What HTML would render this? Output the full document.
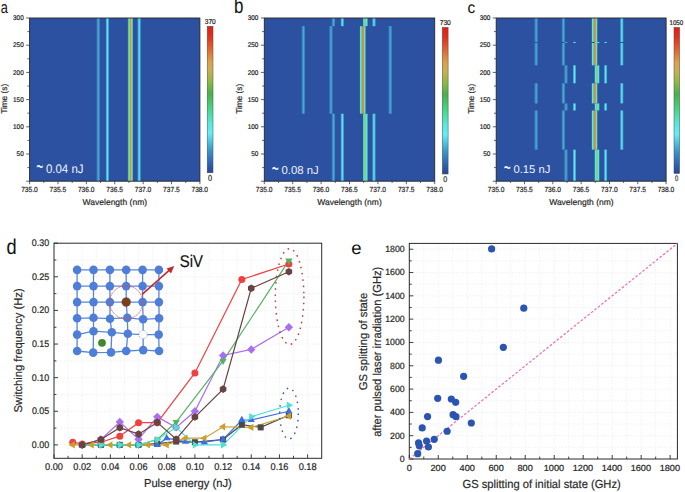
<!DOCTYPE html>
<html><head><meta charset="utf-8"><style>
html,body{margin:0;padding:0;background:#fff;width:685px;height:492px;overflow:hidden}
svg{display:block;font-family:"Liberation Sans", sans-serif;text-rendering:geometricPrecision}
</style></head><body>
<svg width="685" height="492" viewBox="0 0 685 492">
<defs>
<linearGradient id="cbar" x1="0" y1="0" x2="0" y2="1">
<stop offset="0" stop-color="#e61c12"/><stop offset="0.07" stop-color="#e2301c"/><stop offset="0.15" stop-color="#e0622e"/>
<stop offset="0.24" stop-color="#dca04a"/><stop offset="0.3" stop-color="#c8b050"/><stop offset="0.38" stop-color="#8cb848"/><stop offset="0.46" stop-color="#48b04c"/>
<stop offset="0.57" stop-color="#48d88c"/><stop offset="0.66" stop-color="#58e8d8"/><stop offset="0.73" stop-color="#64eef6"/><stop offset="0.84" stop-color="#3a9ccc"/>
<stop offset="0.93" stop-color="#2e66b4"/><stop offset="1" stop-color="#24469a"/></linearGradient>
<linearGradient id="gf" x1="0" y1="0" x2="1" y2="0"><stop offset="0" stop-color="#2c51a0"/><stop offset="0.22" stop-color="#3580bc"/><stop offset="0.5" stop-color="#4aacd6"/><stop offset="0.78" stop-color="#3580bc"/><stop offset="1" stop-color="#2c51a0"/></linearGradient>
<linearGradient id="gc" x1="0" y1="0" x2="1" y2="0"><stop offset="0" stop-color="#2c51a0"/><stop offset="0.2" stop-color="#3c9ed0"/><stop offset="0.5" stop-color="#66eaee"/><stop offset="0.8" stop-color="#3c9ed0"/><stop offset="1" stop-color="#2c51a0"/></linearGradient>
<linearGradient id="gm" x1="0" y1="0" x2="1" y2="0"><stop offset="0" stop-color="#2c51a0"/><stop offset="0.08" stop-color="#46b0da"/><stop offset="0.18" stop-color="#62e4ee"/><stop offset="0.32" stop-color="#5cd890"/><stop offset="0.42" stop-color="#cc9048"/><stop offset="0.62" stop-color="#d88a40"/><stop offset="0.74" stop-color="#8ad67a"/><stop offset="0.86" stop-color="#60e2ea"/><stop offset="0.95" stop-color="#46aad6"/><stop offset="1" stop-color="#2c51a0"/></linearGradient>
<linearGradient id="gg" x1="0" y1="0" x2="1" y2="0"><stop offset="0" stop-color="#2c51a0"/><stop offset="0.1" stop-color="#3aa0d0"/><stop offset="0.24" stop-color="#5ceaea"/><stop offset="0.38" stop-color="#6cd890"/><stop offset="0.5" stop-color="#a8c858"/><stop offset="0.62" stop-color="#6cd890"/><stop offset="0.76" stop-color="#5ceaea"/><stop offset="0.9" stop-color="#3aa0d0"/><stop offset="1" stop-color="#2c51a0"/></linearGradient>
<linearGradient id="gma" x1="0" y1="0" x2="1" y2="0"><stop offset="0" stop-color="#2c51a0"/><stop offset="0.12" stop-color="#40b0d8"/><stop offset="0.26" stop-color="#60dca0"/><stop offset="0.38" stop-color="#a8d060"/><stop offset="0.47" stop-color="#d49244"/><stop offset="0.55" stop-color="#d49244"/><stop offset="0.66" stop-color="#a8d060"/><stop offset="0.8" stop-color="#60dca0"/><stop offset="0.9" stop-color="#40b0d8"/><stop offset="1" stop-color="#2c51a0"/></linearGradient>
</defs>
<rect width="685" height="492" fill="#fff"/>
<rect x="29.6" y="18" width="170.3" height="163.2" fill="#2c51a0"/>
<g clip-path="url(#clipa)">
<rect x="96.09" y="18" width="4.4" height="163.2" fill="url(#gf)"/>
<rect x="105.37" y="18" width="4.0" height="163.2" fill="url(#gc)"/>
<rect x="127.36" y="18" width="6.0" height="163.2" fill="url(#gma)"/>
<rect x="137.16" y="18" width="4.0" height="163.2" fill="url(#gc)"/>
</g>
<clipPath id="clipa"><rect x="29.6" y="18" width="170.3" height="163.2"/></clipPath>
<rect x="29.6" y="18" width="170.3" height="163.2" fill="none" stroke="#262626" stroke-width="0.9"/>
<line x1="26.2" y1="181.2" x2="29.6" y2="181.2" stroke="#3a3a3a" stroke-width="0.8"/>
<line x1="27.4" y1="167.6" x2="29.6" y2="167.6" stroke="#3a3a3a" stroke-width="0.8"/>
<line x1="26.2" y1="154" x2="29.6" y2="154" stroke="#3a3a3a" stroke-width="0.8"/>
<text transform="translate(16.6,156.13) scale(0.9295,1)" font-size="6.901" fill="#2a2a2a" stroke="#2a2a2a" stroke-width="0.22">50</text>
<line x1="27.4" y1="140.4" x2="29.6" y2="140.4" stroke="#3a3a3a" stroke-width="0.8"/>
<line x1="26.2" y1="126.8" x2="29.6" y2="126.8" stroke="#3a3a3a" stroke-width="0.8"/>
<text transform="translate(13.04,128.93) scale(0.9295,1)" font-size="6.901" fill="#2a2a2a" stroke="#2a2a2a" stroke-width="0.22">100</text>
<line x1="27.4" y1="113.2" x2="29.6" y2="113.2" stroke="#3a3a3a" stroke-width="0.8"/>
<line x1="26.2" y1="99.6" x2="29.6" y2="99.6" stroke="#3a3a3a" stroke-width="0.8"/>
<text transform="translate(13.04,101.73) scale(0.9295,1)" font-size="6.901" fill="#2a2a2a" stroke="#2a2a2a" stroke-width="0.22">150</text>
<line x1="27.4" y1="86" x2="29.6" y2="86" stroke="#3a3a3a" stroke-width="0.8"/>
<line x1="26.2" y1="72.4" x2="29.6" y2="72.4" stroke="#3a3a3a" stroke-width="0.8"/>
<text transform="translate(13.04,74.53) scale(0.9295,1)" font-size="6.901" fill="#2a2a2a" stroke="#2a2a2a" stroke-width="0.22">200</text>
<line x1="27.4" y1="58.8" x2="29.6" y2="58.8" stroke="#3a3a3a" stroke-width="0.8"/>
<line x1="26.2" y1="45.2" x2="29.6" y2="45.2" stroke="#3a3a3a" stroke-width="0.8"/>
<text transform="translate(13.04,47.33) scale(0.9295,1)" font-size="6.901" fill="#2a2a2a" stroke="#2a2a2a" stroke-width="0.22">250</text>
<line x1="27.4" y1="31.6" x2="29.6" y2="31.6" stroke="#3a3a3a" stroke-width="0.8"/>
<line x1="26.2" y1="18" x2="29.6" y2="18" stroke="#3a3a3a" stroke-width="0.8"/>
<text transform="translate(13.04,20.13) scale(0.9295,1)" font-size="6.901" fill="#2a2a2a" stroke="#2a2a2a" stroke-width="0.22">300</text>
<line x1="29.6" y1="181.2" x2="29.6" y2="184.2" stroke="#3a3a3a" stroke-width="0.8"/>
<text transform="translate(21.17,191.83) scale(0.8875,1)" font-size="7.465" fill="#2a2a2a" stroke="#2a2a2a" stroke-width="0.22">735.0</text>
<line x1="43.79" y1="181.2" x2="43.79" y2="183" stroke="#3a3a3a" stroke-width="0.8"/>
<line x1="57.98" y1="181.2" x2="57.98" y2="184.2" stroke="#3a3a3a" stroke-width="0.8"/>
<text transform="translate(49.57,191.83) scale(0.8875,1)" font-size="7.465" fill="#2a2a2a" stroke="#2a2a2a" stroke-width="0.22">735.5</text>
<line x1="72.18" y1="181.2" x2="72.18" y2="183" stroke="#3a3a3a" stroke-width="0.8"/>
<line x1="86.37" y1="181.2" x2="86.37" y2="184.2" stroke="#3a3a3a" stroke-width="0.8"/>
<text transform="translate(77.94,191.83) scale(0.8875,1)" font-size="7.465" fill="#2a2a2a" stroke="#2a2a2a" stroke-width="0.22">736.0</text>
<line x1="100.56" y1="181.2" x2="100.56" y2="183" stroke="#3a3a3a" stroke-width="0.8"/>
<line x1="114.75" y1="181.2" x2="114.75" y2="184.2" stroke="#3a3a3a" stroke-width="0.8"/>
<text transform="translate(106.34,191.83) scale(0.8875,1)" font-size="7.465" fill="#2a2a2a" stroke="#2a2a2a" stroke-width="0.22">736.5</text>
<line x1="128.94" y1="181.2" x2="128.94" y2="183" stroke="#3a3a3a" stroke-width="0.8"/>
<line x1="143.13" y1="181.2" x2="143.13" y2="184.2" stroke="#3a3a3a" stroke-width="0.8"/>
<text transform="translate(134.7,191.83) scale(0.8875,1)" font-size="7.465" fill="#2a2a2a" stroke="#2a2a2a" stroke-width="0.22">737.0</text>
<line x1="157.33" y1="181.2" x2="157.33" y2="183" stroke="#3a3a3a" stroke-width="0.8"/>
<line x1="171.52" y1="181.2" x2="171.52" y2="184.2" stroke="#3a3a3a" stroke-width="0.8"/>
<text transform="translate(163.1,191.83) scale(0.8875,1)" font-size="7.465" fill="#2a2a2a" stroke="#2a2a2a" stroke-width="0.22">737.5</text>
<line x1="185.71" y1="181.2" x2="185.71" y2="183" stroke="#3a3a3a" stroke-width="0.8"/>
<line x1="199.9" y1="181.2" x2="199.9" y2="184.2" stroke="#3a3a3a" stroke-width="0.8"/>
<text transform="translate(191.47,191.83) scale(0.8875,1)" font-size="7.465" fill="#2a2a2a" stroke="#2a2a2a" stroke-width="0.22">738.0</text>
<text transform="translate(82.56,204.9) scale(0.9960,1)" font-size="8.556" fill="#2a2a2a" stroke="#2a2a2a" stroke-width="0.2">Wavelength (nm)</text>
<text transform="translate(7.13,113.87) rotate(-90) scale(0.9816,1)" font-size="8.449" fill="#2a2a2a" stroke="#2a2a2a" stroke-width="0.2">Time (s)</text>
<rect x="207.2" y="26.3" width="5.8" height="146.5" fill="url(#cbar)" stroke="#4a4a4a" stroke-width="0.5"/>
<text transform="translate(204.74,23.93) scale(0.9193,1)" font-size="7.183" fill="#2a2a2a" stroke="#2a2a2a" stroke-width="0.22">370</text>
<text transform="translate(207.91,180.91) scale(0.8350,1)" font-size="8.732" fill="#2a2a2a" stroke="#2a2a2a" stroke-width="0.22">0</text>
<text transform="translate(0.79,13.23) scale(0.7746,1)" font-size="16.545" fill="#111">a</text>
<text transform="translate(36.16,175.11) scale(0.4656,1)" font-size="25.600" fill="#eef1f8">~</text>
<text transform="translate(45.94,172.98) scale(0.9254,1)" font-size="12.394" fill="#eef1f8">0.04 nJ</text>
<rect x="264.3" y="18" width="170.4" height="163.2" fill="#2c51a0"/>
<g clip-path="url(#clipb)">
<rect x="331.28" y="113.74" width="4.4" height="67.46" fill="url(#gf)"/>
<rect x="340.29" y="113.74" width="4.0" height="67.46" fill="url(#gc)"/>
<rect x="362.49" y="113.74" width="5.6" height="67.46" fill="url(#gg)"/>
<rect x="371.98" y="113.74" width="4.0" height="67.46" fill="url(#gc)"/>
<rect x="301.18" y="26.16" width="4.4" height="87.58" fill="url(#gf)"/>
<rect x="328.78" y="26.16" width="4.4" height="87.58" fill="url(#gf)"/>
<rect x="359.42" y="26.16" width="6.4" height="87.58" fill="url(#gm)"/>
<rect x="388.08" y="26.16" width="4.4" height="87.58" fill="url(#gf)"/>
<rect x="331.28" y="18" width="4.4" height="8.16" fill="url(#gf)"/>
<rect x="340.29" y="18" width="4.0" height="8.16" fill="url(#gc)"/>
<rect x="362.49" y="18" width="5.6" height="8.16" fill="url(#gg)"/>
<rect x="371.98" y="18" width="4.0" height="8.16" fill="url(#gc)"/>
</g>
<clipPath id="clipb"><rect x="264.3" y="18" width="170.4" height="163.2"/></clipPath>
<rect x="264.3" y="18" width="170.4" height="163.2" fill="none" stroke="#262626" stroke-width="0.9"/>
<line x1="260.9" y1="181.2" x2="264.3" y2="181.2" stroke="#3a3a3a" stroke-width="0.8"/>
<line x1="262.1" y1="167.6" x2="264.3" y2="167.6" stroke="#3a3a3a" stroke-width="0.8"/>
<line x1="260.9" y1="154" x2="264.3" y2="154" stroke="#3a3a3a" stroke-width="0.8"/>
<text transform="translate(251.3,156.13) scale(0.9295,1)" font-size="6.901" fill="#2a2a2a" stroke="#2a2a2a" stroke-width="0.22">50</text>
<line x1="262.1" y1="140.4" x2="264.3" y2="140.4" stroke="#3a3a3a" stroke-width="0.8"/>
<line x1="260.9" y1="126.8" x2="264.3" y2="126.8" stroke="#3a3a3a" stroke-width="0.8"/>
<text transform="translate(247.74,128.93) scale(0.9295,1)" font-size="6.901" fill="#2a2a2a" stroke="#2a2a2a" stroke-width="0.22">100</text>
<line x1="262.1" y1="113.2" x2="264.3" y2="113.2" stroke="#3a3a3a" stroke-width="0.8"/>
<line x1="260.9" y1="99.6" x2="264.3" y2="99.6" stroke="#3a3a3a" stroke-width="0.8"/>
<text transform="translate(247.74,101.73) scale(0.9295,1)" font-size="6.901" fill="#2a2a2a" stroke="#2a2a2a" stroke-width="0.22">150</text>
<line x1="262.1" y1="86" x2="264.3" y2="86" stroke="#3a3a3a" stroke-width="0.8"/>
<line x1="260.9" y1="72.4" x2="264.3" y2="72.4" stroke="#3a3a3a" stroke-width="0.8"/>
<text transform="translate(247.74,74.53) scale(0.9295,1)" font-size="6.901" fill="#2a2a2a" stroke="#2a2a2a" stroke-width="0.22">200</text>
<line x1="262.1" y1="58.8" x2="264.3" y2="58.8" stroke="#3a3a3a" stroke-width="0.8"/>
<line x1="260.9" y1="45.2" x2="264.3" y2="45.2" stroke="#3a3a3a" stroke-width="0.8"/>
<text transform="translate(247.74,47.33) scale(0.9295,1)" font-size="6.901" fill="#2a2a2a" stroke="#2a2a2a" stroke-width="0.22">250</text>
<line x1="262.1" y1="31.6" x2="264.3" y2="31.6" stroke="#3a3a3a" stroke-width="0.8"/>
<line x1="260.9" y1="18" x2="264.3" y2="18" stroke="#3a3a3a" stroke-width="0.8"/>
<text transform="translate(247.74,20.13) scale(0.9295,1)" font-size="6.901" fill="#2a2a2a" stroke="#2a2a2a" stroke-width="0.22">300</text>
<line x1="264.3" y1="181.2" x2="264.3" y2="184.2" stroke="#3a3a3a" stroke-width="0.8"/>
<text transform="translate(255.87,191.83) scale(0.8875,1)" font-size="7.465" fill="#2a2a2a" stroke="#2a2a2a" stroke-width="0.22">735.0</text>
<line x1="278.5" y1="181.2" x2="278.5" y2="183" stroke="#3a3a3a" stroke-width="0.8"/>
<line x1="292.7" y1="181.2" x2="292.7" y2="184.2" stroke="#3a3a3a" stroke-width="0.8"/>
<text transform="translate(284.29,191.83) scale(0.8875,1)" font-size="7.465" fill="#2a2a2a" stroke="#2a2a2a" stroke-width="0.22">735.5</text>
<line x1="306.9" y1="181.2" x2="306.9" y2="183" stroke="#3a3a3a" stroke-width="0.8"/>
<line x1="321.1" y1="181.2" x2="321.1" y2="184.2" stroke="#3a3a3a" stroke-width="0.8"/>
<text transform="translate(312.67,191.83) scale(0.8875,1)" font-size="7.465" fill="#2a2a2a" stroke="#2a2a2a" stroke-width="0.22">736.0</text>
<line x1="335.3" y1="181.2" x2="335.3" y2="183" stroke="#3a3a3a" stroke-width="0.8"/>
<line x1="349.5" y1="181.2" x2="349.5" y2="184.2" stroke="#3a3a3a" stroke-width="0.8"/>
<text transform="translate(341.09,191.83) scale(0.8875,1)" font-size="7.465" fill="#2a2a2a" stroke="#2a2a2a" stroke-width="0.22">736.5</text>
<line x1="363.7" y1="181.2" x2="363.7" y2="183" stroke="#3a3a3a" stroke-width="0.8"/>
<line x1="377.9" y1="181.2" x2="377.9" y2="184.2" stroke="#3a3a3a" stroke-width="0.8"/>
<text transform="translate(369.47,191.83) scale(0.8875,1)" font-size="7.465" fill="#2a2a2a" stroke="#2a2a2a" stroke-width="0.22">737.0</text>
<line x1="392.1" y1="181.2" x2="392.1" y2="183" stroke="#3a3a3a" stroke-width="0.8"/>
<line x1="406.3" y1="181.2" x2="406.3" y2="184.2" stroke="#3a3a3a" stroke-width="0.8"/>
<text transform="translate(397.89,191.83) scale(0.8875,1)" font-size="7.465" fill="#2a2a2a" stroke="#2a2a2a" stroke-width="0.22">737.5</text>
<line x1="420.5" y1="181.2" x2="420.5" y2="183" stroke="#3a3a3a" stroke-width="0.8"/>
<line x1="434.7" y1="181.2" x2="434.7" y2="184.2" stroke="#3a3a3a" stroke-width="0.8"/>
<text transform="translate(426.27,191.83) scale(0.8875,1)" font-size="7.465" fill="#2a2a2a" stroke="#2a2a2a" stroke-width="0.22">738.0</text>
<text transform="translate(317.26,204.9) scale(0.9960,1)" font-size="8.556" fill="#2a2a2a" stroke="#2a2a2a" stroke-width="0.2">Wavelength (nm)</text>
<text transform="translate(241.83,113.87) rotate(-90) scale(0.9816,1)" font-size="8.449" fill="#2a2a2a" stroke="#2a2a2a" stroke-width="0.2">Time (s)</text>
<rect x="442.3" y="27.4" width="5.8" height="146.6" fill="url(#cbar)" stroke="#4a4a4a" stroke-width="0.5"/>
<text transform="translate(439.66,24.83) scale(0.9340,1)" font-size="7.183" fill="#2a2a2a" stroke="#2a2a2a" stroke-width="0.22">730</text>
<text transform="translate(443.22,181.62) scale(0.8524,1)" font-size="8.310" fill="#2a2a2a" stroke="#2a2a2a" stroke-width="0.22">0</text>
<text transform="translate(234,12.79) scale(0.7907,1)" font-size="21.361" fill="#111">b</text>
<text transform="translate(271.76,176.51) scale(0.4656,1)" font-size="25.600" fill="#eef1f8">~</text>
<text transform="translate(281.45,173.59) scale(0.9970,1)" font-size="11.408" fill="#eef1f8">0.08 nJ</text>
<rect x="496.2" y="18" width="169.9" height="163.2" fill="#2c51a0"/>
<g clip-path="url(#clipc)">
<rect x="563.77" y="149.65" width="4.4" height="31.55" fill="url(#gf)"/>
<rect x="572.47" y="149.65" width="4.0" height="31.55" fill="url(#gc)"/>
<rect x="594.21" y="149.65" width="5.6" height="31.55" fill="url(#gg)"/>
<rect x="603.62" y="149.65" width="4.0" height="31.55" fill="url(#gc)"/>
<rect x="533.98" y="110.48" width="4.4" height="39.17" fill="url(#gf)"/>
<rect x="561.22" y="110.48" width="4.4" height="39.17" fill="url(#gf)"/>
<rect x="591.32" y="110.48" width="6.4" height="39.17" fill="url(#gm)"/>
<rect x="619.81" y="110.48" width="4.0" height="39.17" fill="url(#gc)"/>
<rect x="563.77" y="103.41" width="4.4" height="7.07" fill="url(#gf)"/>
<rect x="572.47" y="103.41" width="4.0" height="7.07" fill="url(#gc)"/>
<rect x="594.21" y="103.41" width="5.6" height="7.07" fill="url(#gg)"/>
<rect x="603.62" y="103.41" width="4.0" height="7.07" fill="url(#gc)"/>
<rect x="533.98" y="83.28" width="4.4" height="20.13" fill="url(#gf)"/>
<rect x="561.22" y="83.28" width="4.4" height="20.13" fill="url(#gf)"/>
<rect x="591.32" y="83.28" width="6.4" height="20.13" fill="url(#gm)"/>
<rect x="619.81" y="83.28" width="4.0" height="20.13" fill="url(#gc)"/>
<rect x="563.77" y="65.33" width="4.4" height="17.95" fill="url(#gf)"/>
<rect x="572.47" y="65.33" width="4.0" height="17.95" fill="url(#gc)"/>
<rect x="594.21" y="65.33" width="5.6" height="17.95" fill="url(#gg)"/>
<rect x="603.62" y="65.33" width="4.0" height="17.95" fill="url(#gc)"/>
<rect x="533.98" y="43.02" width="4.4" height="22.3" fill="url(#gf)"/>
<rect x="561.22" y="43.02" width="4.4" height="22.3" fill="url(#gf)"/>
<rect x="591.32" y="43.02" width="6.4" height="22.3" fill="url(#gm)"/>
<rect x="619.81" y="43.02" width="4.0" height="22.3" fill="url(#gc)"/>
<rect x="563.77" y="41.94" width="4.4" height="1.09" fill="url(#gf)"/>
<rect x="572.47" y="41.94" width="4.0" height="1.09" fill="url(#gc)"/>
<rect x="594.21" y="41.94" width="5.6" height="1.09" fill="url(#gg)"/>
<rect x="603.62" y="41.94" width="4.0" height="1.09" fill="url(#gc)"/>
<rect x="533.98" y="18" width="4.4" height="23.94" fill="url(#gf)"/>
<rect x="561.22" y="18" width="4.4" height="23.94" fill="url(#gf)"/>
<rect x="591.32" y="18" width="6.4" height="23.94" fill="url(#gm)"/>
<rect x="619.81" y="18" width="4.0" height="23.94" fill="url(#gc)"/>
</g>
<clipPath id="clipc"><rect x="496.2" y="18" width="169.9" height="163.2"/></clipPath>
<rect x="496.2" y="18" width="169.9" height="163.2" fill="none" stroke="#262626" stroke-width="0.9"/>
<line x1="492.8" y1="181.2" x2="496.2" y2="181.2" stroke="#3a3a3a" stroke-width="0.8"/>
<line x1="494" y1="167.6" x2="496.2" y2="167.6" stroke="#3a3a3a" stroke-width="0.8"/>
<line x1="492.8" y1="154" x2="496.2" y2="154" stroke="#3a3a3a" stroke-width="0.8"/>
<text transform="translate(483.2,156.13) scale(0.9295,1)" font-size="6.901" fill="#2a2a2a" stroke="#2a2a2a" stroke-width="0.22">50</text>
<line x1="494" y1="140.4" x2="496.2" y2="140.4" stroke="#3a3a3a" stroke-width="0.8"/>
<line x1="492.8" y1="126.8" x2="496.2" y2="126.8" stroke="#3a3a3a" stroke-width="0.8"/>
<text transform="translate(479.64,128.93) scale(0.9295,1)" font-size="6.901" fill="#2a2a2a" stroke="#2a2a2a" stroke-width="0.22">100</text>
<line x1="494" y1="113.2" x2="496.2" y2="113.2" stroke="#3a3a3a" stroke-width="0.8"/>
<line x1="492.8" y1="99.6" x2="496.2" y2="99.6" stroke="#3a3a3a" stroke-width="0.8"/>
<text transform="translate(479.64,101.73) scale(0.9295,1)" font-size="6.901" fill="#2a2a2a" stroke="#2a2a2a" stroke-width="0.22">150</text>
<line x1="494" y1="86" x2="496.2" y2="86" stroke="#3a3a3a" stroke-width="0.8"/>
<line x1="492.8" y1="72.4" x2="496.2" y2="72.4" stroke="#3a3a3a" stroke-width="0.8"/>
<text transform="translate(479.64,74.53) scale(0.9295,1)" font-size="6.901" fill="#2a2a2a" stroke="#2a2a2a" stroke-width="0.22">200</text>
<line x1="494" y1="58.8" x2="496.2" y2="58.8" stroke="#3a3a3a" stroke-width="0.8"/>
<line x1="492.8" y1="45.2" x2="496.2" y2="45.2" stroke="#3a3a3a" stroke-width="0.8"/>
<text transform="translate(479.64,47.33) scale(0.9295,1)" font-size="6.901" fill="#2a2a2a" stroke="#2a2a2a" stroke-width="0.22">250</text>
<line x1="494" y1="31.6" x2="496.2" y2="31.6" stroke="#3a3a3a" stroke-width="0.8"/>
<line x1="492.8" y1="18" x2="496.2" y2="18" stroke="#3a3a3a" stroke-width="0.8"/>
<text transform="translate(479.64,20.13) scale(0.9295,1)" font-size="6.901" fill="#2a2a2a" stroke="#2a2a2a" stroke-width="0.22">300</text>
<line x1="496.2" y1="181.2" x2="496.2" y2="184.2" stroke="#3a3a3a" stroke-width="0.8"/>
<text transform="translate(487.77,191.83) scale(0.8875,1)" font-size="7.465" fill="#2a2a2a" stroke="#2a2a2a" stroke-width="0.22">735.0</text>
<line x1="510.36" y1="181.2" x2="510.36" y2="183" stroke="#3a3a3a" stroke-width="0.8"/>
<line x1="524.52" y1="181.2" x2="524.52" y2="184.2" stroke="#3a3a3a" stroke-width="0.8"/>
<text transform="translate(516.1,191.83) scale(0.8875,1)" font-size="7.465" fill="#2a2a2a" stroke="#2a2a2a" stroke-width="0.22">735.5</text>
<line x1="538.67" y1="181.2" x2="538.67" y2="183" stroke="#3a3a3a" stroke-width="0.8"/>
<line x1="552.83" y1="181.2" x2="552.83" y2="184.2" stroke="#3a3a3a" stroke-width="0.8"/>
<text transform="translate(544.4,191.83) scale(0.8875,1)" font-size="7.465" fill="#2a2a2a" stroke="#2a2a2a" stroke-width="0.22">736.0</text>
<line x1="566.99" y1="181.2" x2="566.99" y2="183" stroke="#3a3a3a" stroke-width="0.8"/>
<line x1="581.15" y1="181.2" x2="581.15" y2="184.2" stroke="#3a3a3a" stroke-width="0.8"/>
<text transform="translate(572.74,191.83) scale(0.8875,1)" font-size="7.465" fill="#2a2a2a" stroke="#2a2a2a" stroke-width="0.22">736.5</text>
<line x1="595.31" y1="181.2" x2="595.31" y2="183" stroke="#3a3a3a" stroke-width="0.8"/>
<line x1="609.47" y1="181.2" x2="609.47" y2="184.2" stroke="#3a3a3a" stroke-width="0.8"/>
<text transform="translate(601.04,191.83) scale(0.8875,1)" font-size="7.465" fill="#2a2a2a" stroke="#2a2a2a" stroke-width="0.22">737.0</text>
<line x1="623.62" y1="181.2" x2="623.62" y2="183" stroke="#3a3a3a" stroke-width="0.8"/>
<line x1="637.78" y1="181.2" x2="637.78" y2="184.2" stroke="#3a3a3a" stroke-width="0.8"/>
<text transform="translate(629.37,191.83) scale(0.8875,1)" font-size="7.465" fill="#2a2a2a" stroke="#2a2a2a" stroke-width="0.22">737.5</text>
<line x1="651.94" y1="181.2" x2="651.94" y2="183" stroke="#3a3a3a" stroke-width="0.8"/>
<line x1="666.1" y1="181.2" x2="666.1" y2="184.2" stroke="#3a3a3a" stroke-width="0.8"/>
<text transform="translate(657.67,191.83) scale(0.8875,1)" font-size="7.465" fill="#2a2a2a" stroke="#2a2a2a" stroke-width="0.22">738.0</text>
<text transform="translate(549.16,204.9) scale(0.9960,1)" font-size="8.556" fill="#2a2a2a" stroke="#2a2a2a" stroke-width="0.2">Wavelength (nm)</text>
<text transform="translate(473.73,113.87) rotate(-90) scale(0.9816,1)" font-size="8.449" fill="#2a2a2a" stroke="#2a2a2a" stroke-width="0.2">Time (s)</text>
<rect x="674" y="27.4" width="5.6" height="146.1" fill="url(#cbar)" stroke="#4a4a4a" stroke-width="0.5"/>
<text transform="translate(669.43,24.53) scale(0.9232,1)" font-size="6.761" fill="#2a2a2a" stroke="#2a2a2a" stroke-width="0.22">1050</text>
<text transform="translate(674.97,180.72) scale(0.7266,1)" font-size="8.028" fill="#2a2a2a" stroke="#2a2a2a" stroke-width="0.22">0</text>
<text transform="translate(467.48,13.04) scale(0.9518,1)" font-size="16.182" fill="#111">c</text>
<text transform="translate(503.76,175.71) scale(0.4656,1)" font-size="25.600" fill="#eef1f8">~</text>
<text transform="translate(513.45,172.99) scale(1.0109,1)" font-size="11.127" fill="#eef1f8">0.15 nJ</text>
<line x1="68.09" y1="243.2" x2="68.09" y2="458.3" stroke="#efefef" stroke-width="0.7" stroke-dasharray="2 1.3"/>
<line x1="82.18" y1="243.2" x2="82.18" y2="458.3" stroke="#efefef" stroke-width="0.7" stroke-dasharray="2 1.3"/>
<line x1="96.27" y1="243.2" x2="96.27" y2="458.3" stroke="#efefef" stroke-width="0.7" stroke-dasharray="2 1.3"/>
<line x1="110.36" y1="243.2" x2="110.36" y2="458.3" stroke="#efefef" stroke-width="0.7" stroke-dasharray="2 1.3"/>
<line x1="124.45" y1="243.2" x2="124.45" y2="458.3" stroke="#efefef" stroke-width="0.7" stroke-dasharray="2 1.3"/>
<line x1="138.54" y1="243.2" x2="138.54" y2="458.3" stroke="#efefef" stroke-width="0.7" stroke-dasharray="2 1.3"/>
<line x1="152.63" y1="243.2" x2="152.63" y2="458.3" stroke="#efefef" stroke-width="0.7" stroke-dasharray="2 1.3"/>
<line x1="166.72" y1="243.2" x2="166.72" y2="458.3" stroke="#efefef" stroke-width="0.7" stroke-dasharray="2 1.3"/>
<line x1="180.81" y1="243.2" x2="180.81" y2="458.3" stroke="#efefef" stroke-width="0.7" stroke-dasharray="2 1.3"/>
<line x1="194.9" y1="243.2" x2="194.9" y2="458.3" stroke="#efefef" stroke-width="0.7" stroke-dasharray="2 1.3"/>
<line x1="208.99" y1="243.2" x2="208.99" y2="458.3" stroke="#efefef" stroke-width="0.7" stroke-dasharray="2 1.3"/>
<line x1="223.08" y1="243.2" x2="223.08" y2="458.3" stroke="#efefef" stroke-width="0.7" stroke-dasharray="2 1.3"/>
<line x1="237.17" y1="243.2" x2="237.17" y2="458.3" stroke="#efefef" stroke-width="0.7" stroke-dasharray="2 1.3"/>
<line x1="251.26" y1="243.2" x2="251.26" y2="458.3" stroke="#efefef" stroke-width="0.7" stroke-dasharray="2 1.3"/>
<line x1="265.35" y1="243.2" x2="265.35" y2="458.3" stroke="#efefef" stroke-width="0.7" stroke-dasharray="2 1.3"/>
<line x1="279.44" y1="243.2" x2="279.44" y2="458.3" stroke="#efefef" stroke-width="0.7" stroke-dasharray="2 1.3"/>
<line x1="293.53" y1="243.2" x2="293.53" y2="458.3" stroke="#efefef" stroke-width="0.7" stroke-dasharray="2 1.3"/>
<line x1="307.62" y1="243.2" x2="307.62" y2="458.3" stroke="#efefef" stroke-width="0.7" stroke-dasharray="2 1.3"/>
<line x1="54" y1="444.9" x2="321.7" y2="444.9" stroke="#efefef" stroke-width="0.7" stroke-dasharray="2 1.3"/>
<line x1="54" y1="428.09" x2="321.7" y2="428.09" stroke="#efefef" stroke-width="0.7" stroke-dasharray="2 1.3"/>
<line x1="54" y1="411.28" x2="321.7" y2="411.28" stroke="#efefef" stroke-width="0.7" stroke-dasharray="2 1.3"/>
<line x1="54" y1="394.47" x2="321.7" y2="394.47" stroke="#efefef" stroke-width="0.7" stroke-dasharray="2 1.3"/>
<line x1="54" y1="377.67" x2="321.7" y2="377.67" stroke="#efefef" stroke-width="0.7" stroke-dasharray="2 1.3"/>
<line x1="54" y1="360.86" x2="321.7" y2="360.86" stroke="#efefef" stroke-width="0.7" stroke-dasharray="2 1.3"/>
<line x1="54" y1="344.05" x2="321.7" y2="344.05" stroke="#efefef" stroke-width="0.7" stroke-dasharray="2 1.3"/>
<line x1="54" y1="327.24" x2="321.7" y2="327.24" stroke="#efefef" stroke-width="0.7" stroke-dasharray="2 1.3"/>
<line x1="54" y1="310.43" x2="321.7" y2="310.43" stroke="#efefef" stroke-width="0.7" stroke-dasharray="2 1.3"/>
<line x1="54" y1="293.62" x2="321.7" y2="293.62" stroke="#efefef" stroke-width="0.7" stroke-dasharray="2 1.3"/>
<line x1="54" y1="276.82" x2="321.7" y2="276.82" stroke="#efefef" stroke-width="0.7" stroke-dasharray="2 1.3"/>
<line x1="54" y1="260.01" x2="321.7" y2="260.01" stroke="#efefef" stroke-width="0.7" stroke-dasharray="2 1.3"/>
<rect x="54" y="243.2" width="267.7" height="215.1" fill="none" stroke="#2a2a2a" stroke-width="1"/>
<line x1="54" y1="458.3" x2="54" y2="454.3" stroke="#2a2a2a" stroke-width="0.9"/>
<text transform="translate(45.03,470.3) scale(0.9383,1)" font-size="9.859" fill="#2a2a2a" stroke="#2a2a2a" stroke-width="0.22">0.00</text>
<line x1="68.09" y1="458.3" x2="68.09" y2="455.9" stroke="#2a2a2a" stroke-width="0.9"/>
<line x1="82.18" y1="458.3" x2="82.18" y2="454.3" stroke="#2a2a2a" stroke-width="0.9"/>
<text transform="translate(73.28,470.3) scale(0.9383,1)" font-size="9.859" fill="#2a2a2a" stroke="#2a2a2a" stroke-width="0.22">0.02</text>
<line x1="96.27" y1="458.3" x2="96.27" y2="455.9" stroke="#2a2a2a" stroke-width="0.9"/>
<line x1="110.36" y1="458.3" x2="110.36" y2="454.3" stroke="#2a2a2a" stroke-width="0.9"/>
<text transform="translate(101.37,470.3) scale(0.9383,1)" font-size="9.859" fill="#2a2a2a" stroke="#2a2a2a" stroke-width="0.22">0.04</text>
<line x1="124.45" y1="458.3" x2="124.45" y2="455.9" stroke="#2a2a2a" stroke-width="0.9"/>
<line x1="138.54" y1="458.3" x2="138.54" y2="454.3" stroke="#2a2a2a" stroke-width="0.9"/>
<text transform="translate(129.59,470.3) scale(0.9383,1)" font-size="9.859" fill="#2a2a2a" stroke="#2a2a2a" stroke-width="0.22">0.06</text>
<line x1="152.63" y1="458.3" x2="152.63" y2="455.9" stroke="#2a2a2a" stroke-width="0.9"/>
<line x1="166.72" y1="458.3" x2="166.72" y2="454.3" stroke="#2a2a2a" stroke-width="0.9"/>
<text transform="translate(157.77,470.3) scale(0.9383,1)" font-size="9.859" fill="#2a2a2a" stroke="#2a2a2a" stroke-width="0.22">0.08</text>
<line x1="180.81" y1="458.3" x2="180.81" y2="455.9" stroke="#2a2a2a" stroke-width="0.9"/>
<line x1="194.9" y1="458.3" x2="194.9" y2="454.3" stroke="#2a2a2a" stroke-width="0.9"/>
<text transform="translate(185.93,470.3) scale(0.9383,1)" font-size="9.859" fill="#2a2a2a" stroke="#2a2a2a" stroke-width="0.22">0.10</text>
<line x1="208.99" y1="458.3" x2="208.99" y2="455.9" stroke="#2a2a2a" stroke-width="0.9"/>
<line x1="223.08" y1="458.3" x2="223.08" y2="454.3" stroke="#2a2a2a" stroke-width="0.9"/>
<text transform="translate(214.18,470.3) scale(0.9383,1)" font-size="9.859" fill="#2a2a2a" stroke="#2a2a2a" stroke-width="0.22">0.12</text>
<line x1="237.17" y1="458.3" x2="237.17" y2="455.9" stroke="#2a2a2a" stroke-width="0.9"/>
<line x1="251.26" y1="458.3" x2="251.26" y2="454.3" stroke="#2a2a2a" stroke-width="0.9"/>
<text transform="translate(242.27,470.3) scale(0.9383,1)" font-size="9.859" fill="#2a2a2a" stroke="#2a2a2a" stroke-width="0.22">0.14</text>
<line x1="265.35" y1="458.3" x2="265.35" y2="455.9" stroke="#2a2a2a" stroke-width="0.9"/>
<line x1="279.44" y1="458.3" x2="279.44" y2="454.3" stroke="#2a2a2a" stroke-width="0.9"/>
<text transform="translate(270.49,470.3) scale(0.9383,1)" font-size="9.859" fill="#2a2a2a" stroke="#2a2a2a" stroke-width="0.22">0.16</text>
<line x1="293.53" y1="458.3" x2="293.53" y2="455.9" stroke="#2a2a2a" stroke-width="0.9"/>
<line x1="307.62" y1="458.3" x2="307.62" y2="454.3" stroke="#2a2a2a" stroke-width="0.9"/>
<text transform="translate(298.67,470.3) scale(0.9383,1)" font-size="9.859" fill="#2a2a2a" stroke="#2a2a2a" stroke-width="0.22">0.18</text>
<line x1="54" y1="444.9" x2="58" y2="444.9" stroke="#2a2a2a" stroke-width="0.9"/>
<text transform="translate(31.84,447.85) scale(0.9324,1)" font-size="9.577" fill="#2a2a2a" stroke="#2a2a2a" stroke-width="0.22">0.00</text>
<line x1="54" y1="428.09" x2="56.4" y2="428.09" stroke="#2a2a2a" stroke-width="0.9"/>
<line x1="54" y1="411.28" x2="58" y2="411.28" stroke="#2a2a2a" stroke-width="0.9"/>
<text transform="translate(31.89,414.24) scale(0.9324,1)" font-size="9.577" fill="#2a2a2a" stroke="#2a2a2a" stroke-width="0.22">0.05</text>
<line x1="54" y1="394.47" x2="56.4" y2="394.47" stroke="#2a2a2a" stroke-width="0.9"/>
<line x1="54" y1="377.67" x2="58" y2="377.67" stroke="#2a2a2a" stroke-width="0.9"/>
<text transform="translate(31.84,380.62) scale(0.9324,1)" font-size="9.577" fill="#2a2a2a" stroke="#2a2a2a" stroke-width="0.22">0.10</text>
<line x1="54" y1="360.86" x2="56.4" y2="360.86" stroke="#2a2a2a" stroke-width="0.9"/>
<line x1="54" y1="344.05" x2="58" y2="344.05" stroke="#2a2a2a" stroke-width="0.9"/>
<text transform="translate(31.89,347) scale(0.9324,1)" font-size="9.577" fill="#2a2a2a" stroke="#2a2a2a" stroke-width="0.22">0.15</text>
<line x1="54" y1="327.24" x2="56.4" y2="327.24" stroke="#2a2a2a" stroke-width="0.9"/>
<line x1="54" y1="310.43" x2="58" y2="310.43" stroke="#2a2a2a" stroke-width="0.9"/>
<text transform="translate(31.84,313.39) scale(0.9324,1)" font-size="9.577" fill="#2a2a2a" stroke="#2a2a2a" stroke-width="0.22">0.20</text>
<line x1="54" y1="293.62" x2="56.4" y2="293.62" stroke="#2a2a2a" stroke-width="0.9"/>
<line x1="54" y1="276.82" x2="58" y2="276.82" stroke="#2a2a2a" stroke-width="0.9"/>
<text transform="translate(31.89,279.77) scale(0.9324,1)" font-size="9.577" fill="#2a2a2a" stroke="#2a2a2a" stroke-width="0.22">0.25</text>
<line x1="54" y1="260.01" x2="56.4" y2="260.01" stroke="#2a2a2a" stroke-width="0.9"/>
<line x1="54" y1="243.2" x2="58" y2="243.2" stroke="#2a2a2a" stroke-width="0.9"/>
<text transform="translate(31.84,246.15) scale(0.9324,1)" font-size="9.577" fill="#2a2a2a" stroke="#2a2a2a" stroke-width="0.22">0.30</text>
<text transform="translate(143.9,487.37) scale(0.9709,1)" font-size="11.551" fill="#2a2a2a" stroke="#2a2a2a" stroke-width="0.2">Pulse energy (nJ)</text>
<text transform="translate(21.52,412.6) rotate(-90) scale(0.9870,1)" font-size="11.337" fill="#2a2a2a" stroke="#2a2a2a" stroke-width="0.2">Switching frequency (Hz)</text>
<text transform="translate(6.57,254.29) scale(0.8531,1)" font-size="21.361" fill="#111">d</text>
<path d="M77.1 269.9 L93.5 269.9 L109.9 269.9 L126.2 269.9 L142.6 269.9 L158.9 269.9" fill="none" stroke="#5a86d8" stroke-width="1.3"/>
<path d="M77.1 286.1 L93.5 286.1 L109.9 286.1 L126.2 286.1 L142.6 286.1 L158.9 286.1" fill="none" stroke="#5a86d8" stroke-width="1.3"/>
<path d="M77.1 302.1 L93.5 302.1 L109.9 302.1 L126.2 302.1 L142.6 302.1 L158.9 302.1" fill="none" stroke="#5a86d8" stroke-width="1.3"/>
<path d="M77.1 318.3 L93.5 317.8 L110 318.7 L127.3 317.9 L143.1 319.3 L159.1 318.3" fill="none" stroke="#5a86d8" stroke-width="1.3"/>
<path d="M77.1 334.6 L93.5 331.2 L111.8 332.3 L127.8 333.8 L143.1 334.6 L158.7 334.6" fill="none" stroke="#5a86d8" stroke-width="1.3"/>
<path d="M77.1 351 L93.2 352.6 L111 352.4 L126.2 351 L143.2 350.1 L159.1 351" fill="none" stroke="#5a86d8" stroke-width="1.3"/>
<path d="M77.1 269.9 L77.1 286.1 L77.1 302.1 L77.1 318.3 L77.1 334.6 L77.1 351" fill="none" stroke="#5a86d8" stroke-width="1.3"/>
<path d="M93.5 269.9 L93.5 286.1 L93.5 302.1 L93.5 317.8 L93.5 331.2 L93.2 352.6" fill="none" stroke="#5a86d8" stroke-width="1.3"/>
<path d="M109.9 269.9 L109.9 286.1 L109.9 302.1 L110 318.7 L111.8 332.3 L111 352.4" fill="none" stroke="#5a86d8" stroke-width="1.3"/>
<path d="M126.2 269.9 L126.2 286.1 L126.2 302.1 L127.3 317.9 L127.8 333.8 L126.2 351" fill="none" stroke="#5a86d8" stroke-width="1.3"/>
<path d="M142.6 269.9 L142.6 286.1 L142.6 302.1 L143.1 319.3 L143.1 334.6 L143.2 350.1" fill="none" stroke="#5a86d8" stroke-width="1.3"/>
<path d="M158.9 269.9 L158.9 286.1 L158.9 302.1 L159.1 318.3 L158.7 334.6 L159.1 351" fill="none" stroke="#5a86d8" stroke-width="1.3"/>
<circle cx="77.1" cy="269.9" r="4.3" fill="#4f7ed8"/>
<circle cx="93.5" cy="269.9" r="4.3" fill="#4f7ed8"/>
<circle cx="109.9" cy="269.9" r="4.3" fill="#4f7ed8"/>
<circle cx="126.2" cy="269.9" r="4.3" fill="#4f7ed8"/>
<circle cx="142.6" cy="269.9" r="4.3" fill="#4f7ed8"/>
<circle cx="158.9" cy="269.9" r="4.3" fill="#4f7ed8"/>
<circle cx="77.1" cy="286.1" r="4.3" fill="#4f7ed8"/>
<circle cx="93.5" cy="286.1" r="4.3" fill="#4f7ed8"/>
<circle cx="109.9" cy="286.1" r="4.3" fill="#4f7ed8"/>
<circle cx="126.2" cy="286.1" r="4.3" fill="#4f7ed8"/>
<circle cx="142.6" cy="286.1" r="4.3" fill="#4f7ed8"/>
<circle cx="158.9" cy="286.1" r="4.3" fill="#4f7ed8"/>
<circle cx="77.1" cy="302.1" r="4.3" fill="#4f7ed8"/>
<circle cx="93.5" cy="302.1" r="4.3" fill="#4f7ed8"/>
<circle cx="109.9" cy="302.1" r="4.3" fill="#4f7ed8"/>
<circle cx="126.2" cy="302.1" r="4.6" fill="#7c3e18" stroke="#5a7ed0" stroke-width="0.6" stroke-dasharray="0.8 1"/>
<circle cx="142.6" cy="302.1" r="4.3" fill="#4f7ed8"/>
<circle cx="158.9" cy="302.1" r="4.3" fill="#4f7ed8"/>
<circle cx="77.1" cy="318.3" r="4.3" fill="#4f7ed8"/>
<circle cx="93.5" cy="317.8" r="4.3" fill="#4f7ed8"/>
<circle cx="110" cy="318.7" r="4.3" fill="#4f7ed8"/>
<circle cx="127.3" cy="317.9" r="4.3" fill="#4f7ed8"/>
<circle cx="143.1" cy="319.3" r="4.3" fill="#4f7ed8"/>
<circle cx="159.1" cy="318.3" r="4.3" fill="#4f7ed8"/>
<circle cx="77.1" cy="334.6" r="4.3" fill="#4f7ed8"/>
<circle cx="93.5" cy="331.2" r="4.3" fill="#4f7ed8"/>
<circle cx="111.8" cy="332.3" r="4.3" fill="#4f7ed8"/>
<circle cx="127.8" cy="333.8" r="4.3" fill="#4f7ed8"/>
<circle cx="143.1" cy="334.6" r="4.1" fill="#ffffff" stroke="#4f7ed8" stroke-width="0.6" stroke-dasharray="1 1"/>
<circle cx="158.7" cy="334.6" r="4.3" fill="#4f7ed8"/>
<circle cx="77.1" cy="351" r="4.3" fill="#4f7ed8"/>
<circle cx="93.2" cy="352.6" r="4.3" fill="#4f7ed8"/>
<circle cx="111" cy="352.4" r="4.3" fill="#4f7ed8"/>
<circle cx="126.2" cy="351" r="4.3" fill="#4f7ed8"/>
<circle cx="143.2" cy="350.1" r="4.3" fill="#4f7ed8"/>
<circle cx="159.1" cy="351" r="4.3" fill="#4f7ed8"/>
<circle cx="102.0" cy="342.8" r="3.9" fill="#3f8a2e"/>
<circle cx="126.2" cy="302.3" r="16.5" fill="none" stroke="#e24b4b" stroke-width="0.8" stroke-dasharray="1.5 0.5"/>
<line x1="142.1" y1="294.4" x2="170.5" y2="269.2" stroke="#c4282a" stroke-width="1.6"/>
<path d="M174.2 266.0 L166.6 268.6 L171.0 273.6 Z" fill="#c4282a"/>
<text transform="translate(179.73,266.93) scale(0.8752,1)" font-size="17.007" fill="#111" stroke="#111" stroke-width="0.2">SiV</text>
<path d="M82.18 444.9 L100.92 444.9 L119.8 444.9 L138.54 444.9 L157.28 443.56 L176.16 441.54 L194.9 442.21 L223.08 439.52 L241.82 424.73 L260.7 427.42 L288.88 415.32" fill="none" stroke="#4a4a4a" stroke-width="1.2"/>
<path d="M82.18 444.9 L100.92 439.52 L119.8 422.04 L138.54 439.19 L157.28 416.86 L176.16 427.42 L194.9 411.28 L223.08 355.48 L251.26 349.43 L288.88 327.24" fill="none" stroke="#a96ff0" stroke-width="1.2"/>
<path d="M72.74 442.21 L82.18 443.89 L100.92 442.21 L119.8 436.16 L138.54 422.71 L157.28 422.71 L194.9 372.96 L241.82 279.51 L288.88 264.04" fill="none" stroke="#f04040" stroke-width="1.2"/>
<path d="M82.18 444.9 L100.92 444.9 L119.8 444.9 L138.54 444.9 L157.28 444.9 L166.72 438.18 L185.46 441.54 L204.34 442.21 L223.08 439.52 L241.82 420.02 L251.26 420.02 L288.88 411.28" fill="none" stroke="#3a6ee6" stroke-width="1.2"/>
<path d="M72.74 444.9 L91.62 444.9 L110.36 444.9 L129.1 444.9 L147.98 444.9 L166.72 444.9 L185.46 438.18 L204.34 438.18 L223.08 426.75 L251.26 427.42 L288.88 415.99" fill="none" stroke="#c9a02c" stroke-width="1.2"/>
<path d="M82.18 444.9 L100.92 444.9 L119.8 444.9 L138.54 444.9 L157.28 439.52 L176.16 422.04 L223.08 360.86 L288.88 260.68" fill="none" stroke="#52b463" stroke-width="1.2"/>
<path d="M82.18 444.9 L100.92 444.9 L119.8 444.9 L138.54 444.9 L157.28 439.52 L176.16 427.42 L194.9 444.9 L223.08 444.9 L251.26 416.66 L288.88 405.23" fill="none" stroke="#4fe0d2" stroke-width="1.2"/>
<path d="M82.18 444.9 L100.92 439.52 L119.8 427.76 L138.54 434.14 L157.28 422.38 L176.16 439.19 L194.9 417.07 L223.08 389.1 L251.26 288.25 L288.88 271.71" fill="none" stroke="#6b4242" stroke-width="1.2"/>
<rect x="79.18" y="441.9" width="6" height="6" fill="#4a4a4a"/>
<rect x="97.92" y="441.9" width="6" height="6" fill="#4a4a4a"/>
<rect x="116.8" y="441.9" width="6" height="6" fill="#4a4a4a"/>
<rect x="135.54" y="441.9" width="6" height="6" fill="#4a4a4a"/>
<rect x="154.28" y="440.56" width="6" height="6" fill="#4a4a4a"/>
<rect x="173.16" y="438.54" width="6" height="6" fill="#4a4a4a"/>
<rect x="191.9" y="439.21" width="6" height="6" fill="#4a4a4a"/>
<rect x="220.08" y="436.52" width="6" height="6" fill="#4a4a4a"/>
<rect x="238.82" y="421.73" width="6" height="6" fill="#4a4a4a"/>
<rect x="257.7" y="424.42" width="6" height="6" fill="#4a4a4a"/>
<rect x="285.88" y="412.32" width="6" height="6" fill="#4a4a4a"/>
<path d="M82.18 440.7 L86.38 444.9 L82.18 449.1 L77.98 444.9 Z" fill="#a96ff0"/>
<path d="M100.92 435.32 L105.12 439.52 L100.92 443.72 L96.72 439.52 Z" fill="#a96ff0"/>
<path d="M119.8 417.84 L124 422.04 L119.8 426.24 L115.6 422.04 Z" fill="#a96ff0"/>
<path d="M138.54 434.99 L142.74 439.19 L138.54 443.39 L134.34 439.19 Z" fill="#a96ff0"/>
<path d="M157.28 412.66 L161.48 416.86 L157.28 421.06 L153.08 416.86 Z" fill="#a96ff0"/>
<path d="M176.16 423.22 L180.36 427.42 L176.16 431.62 L171.96 427.42 Z" fill="#a96ff0"/>
<path d="M194.9 407.08 L199.1 411.28 L194.9 415.48 L190.7 411.28 Z" fill="#a96ff0"/>
<path d="M223.08 351.28 L227.28 355.48 L223.08 359.68 L218.88 355.48 Z" fill="#a96ff0"/>
<path d="M251.26 345.23 L255.46 349.43 L251.26 353.63 L247.06 349.43 Z" fill="#a96ff0"/>
<path d="M288.88 323.04 L293.08 327.24 L288.88 331.44 L284.68 327.24 Z" fill="#a96ff0"/>
<circle cx="72.74" cy="442.21" r="3.5" fill="#f04040"/>
<circle cx="82.18" cy="443.89" r="3.5" fill="#f04040"/>
<circle cx="100.92" cy="442.21" r="3.5" fill="#f04040"/>
<circle cx="119.8" cy="436.16" r="3.5" fill="#f04040"/>
<circle cx="138.54" cy="422.71" r="3.5" fill="#f04040"/>
<circle cx="157.28" cy="422.71" r="3.5" fill="#f04040"/>
<circle cx="194.9" cy="372.96" r="3.5" fill="#f04040"/>
<circle cx="241.82" cy="279.51" r="3.5" fill="#f04040"/>
<circle cx="288.88" cy="264.04" r="3.5" fill="#f04040"/>
<polygon points="82.18,440.7 85.82,447 78.54,447" fill="#3a6ee6"/>
<polygon points="100.92,440.7 104.56,447 97.28,447" fill="#3a6ee6"/>
<polygon points="119.8,440.7 123.44,447 116.16,447" fill="#3a6ee6"/>
<polygon points="138.54,440.7 142.18,447 134.9,447" fill="#3a6ee6"/>
<polygon points="157.28,440.7 160.92,447 153.64,447" fill="#3a6ee6"/>
<polygon points="166.72,433.98 170.36,440.28 163.08,440.28" fill="#3a6ee6"/>
<polygon points="185.46,437.34 189.1,443.64 181.82,443.64" fill="#3a6ee6"/>
<polygon points="204.34,438.01 207.98,444.31 200.7,444.31" fill="#3a6ee6"/>
<polygon points="223.08,435.32 226.72,441.62 219.44,441.62" fill="#3a6ee6"/>
<polygon points="241.82,415.82 245.46,422.12 238.18,422.12" fill="#3a6ee6"/>
<polygon points="251.26,415.82 254.9,422.12 247.62,422.12" fill="#3a6ee6"/>
<polygon points="288.88,407.08 292.52,413.38 285.24,413.38" fill="#3a6ee6"/>
<polygon points="68.54,444.9 74.84,441.26 74.84,448.54" fill="#c9a02c"/>
<polygon points="87.42,444.9 93.72,441.26 93.72,448.54" fill="#c9a02c"/>
<polygon points="106.16,444.9 112.46,441.26 112.46,448.54" fill="#c9a02c"/>
<polygon points="124.9,444.9 131.2,441.26 131.2,448.54" fill="#c9a02c"/>
<polygon points="143.78,444.9 150.08,441.26 150.08,448.54" fill="#c9a02c"/>
<polygon points="162.52,444.9 168.82,441.26 168.82,448.54" fill="#c9a02c"/>
<polygon points="181.26,438.18 187.56,434.54 187.56,441.81" fill="#c9a02c"/>
<polygon points="200.14,438.18 206.44,434.54 206.44,441.81" fill="#c9a02c"/>
<polygon points="218.88,426.75 225.18,423.11 225.18,430.38" fill="#c9a02c"/>
<polygon points="247.06,427.42 253.36,423.78 253.36,431.06" fill="#c9a02c"/>
<polygon points="284.68,415.99 290.98,412.35 290.98,419.63" fill="#c9a02c"/>
<polygon points="82.18,449.1 78.54,442.8 85.82,442.8" fill="#52b463"/>
<polygon points="100.92,449.1 97.28,442.8 104.56,442.8" fill="#52b463"/>
<polygon points="119.8,449.1 116.16,442.8 123.44,442.8" fill="#52b463"/>
<polygon points="138.54,449.1 134.9,442.8 142.18,442.8" fill="#52b463"/>
<polygon points="157.28,443.72 153.64,437.42 160.92,437.42" fill="#52b463"/>
<polygon points="176.16,426.24 172.52,419.94 179.8,419.94" fill="#52b463"/>
<polygon points="223.08,365.06 219.44,358.76 226.72,358.76" fill="#52b463"/>
<polygon points="288.88,264.88 285.24,258.58 292.52,258.58" fill="#52b463"/>
<polygon points="86.38,444.9 80.08,448.54 80.08,441.26" fill="#4fe0d2"/>
<polygon points="105.12,444.9 98.82,448.54 98.82,441.26" fill="#4fe0d2"/>
<polygon points="124,444.9 117.7,448.54 117.7,441.26" fill="#4fe0d2"/>
<polygon points="142.74,444.9 136.44,448.54 136.44,441.26" fill="#4fe0d2"/>
<polygon points="161.48,439.52 155.18,443.16 155.18,435.88" fill="#4fe0d2"/>
<polygon points="180.36,427.42 174.06,431.06 174.06,423.78" fill="#4fe0d2"/>
<polygon points="199.1,444.9 192.8,448.54 192.8,441.26" fill="#4fe0d2"/>
<polygon points="227.28,444.9 220.98,448.54 220.98,441.26" fill="#4fe0d2"/>
<polygon points="255.46,416.66 249.16,420.3 249.16,413.02" fill="#4fe0d2"/>
<polygon points="293.08,405.23 286.78,408.87 286.78,401.6" fill="#4fe0d2"/>
<polygon points="82.18,448.7 78.89,446.8 78.89,443 82.18,441.1 85.47,443 85.47,446.8" fill="#6b4242"/>
<polygon points="100.92,443.32 97.63,441.42 97.63,437.62 100.92,435.72 104.21,437.62 104.21,441.42" fill="#6b4242"/>
<polygon points="119.8,431.56 116.51,429.66 116.51,425.86 119.8,423.96 123.09,425.86 123.09,429.66" fill="#6b4242"/>
<polygon points="138.54,437.94 135.25,436.04 135.25,432.24 138.54,430.34 141.83,432.24 141.83,436.04" fill="#6b4242"/>
<polygon points="157.28,426.18 153.99,424.28 153.99,420.48 157.28,418.58 160.57,420.48 160.57,424.28" fill="#6b4242"/>
<polygon points="176.16,442.99 172.87,441.09 172.87,437.29 176.16,435.39 179.45,437.29 179.45,441.09" fill="#6b4242"/>
<polygon points="194.9,420.87 191.61,418.97 191.61,415.17 194.9,413.27 198.19,415.17 198.19,418.97" fill="#6b4242"/>
<polygon points="223.08,392.9 219.79,391 219.79,387.2 223.08,385.3 226.37,387.2 226.37,391" fill="#6b4242"/>
<polygon points="251.26,292.05 247.97,290.15 247.97,286.35 251.26,284.45 254.55,286.35 254.55,290.15" fill="#6b4242"/>
<polygon points="288.88,275.51 285.59,273.61 285.59,269.81 288.88,267.91 292.17,269.81 292.17,273.61" fill="#6b4242"/>
<ellipse cx="289.6" cy="296.6" rx="14.3" ry="47.9" fill="none" stroke="#c83c3c" stroke-width="1.45" stroke-dasharray="1.6 4.6"/>
<ellipse cx="289.0" cy="413.5" rx="9.3" ry="25.4" fill="none" stroke="#3a62a8" stroke-width="1.45" stroke-dasharray="1.6 4.8"/>
<line x1="423.79" y1="243.4" x2="423.79" y2="459" stroke="#efefef" stroke-width="0.7" stroke-dasharray="2 1.3"/>
<line x1="409.3" y1="447.35" x2="677.4" y2="447.35" stroke="#efefef" stroke-width="0.7" stroke-dasharray="2 1.3"/>
<line x1="438.28" y1="243.4" x2="438.28" y2="459" stroke="#efefef" stroke-width="0.7" stroke-dasharray="2 1.3"/>
<line x1="409.3" y1="435.69" x2="677.4" y2="435.69" stroke="#efefef" stroke-width="0.7" stroke-dasharray="2 1.3"/>
<line x1="452.78" y1="243.4" x2="452.78" y2="459" stroke="#efefef" stroke-width="0.7" stroke-dasharray="2 1.3"/>
<line x1="409.3" y1="424.04" x2="677.4" y2="424.04" stroke="#efefef" stroke-width="0.7" stroke-dasharray="2 1.3"/>
<line x1="467.27" y1="243.4" x2="467.27" y2="459" stroke="#efefef" stroke-width="0.7" stroke-dasharray="2 1.3"/>
<line x1="409.3" y1="412.38" x2="677.4" y2="412.38" stroke="#efefef" stroke-width="0.7" stroke-dasharray="2 1.3"/>
<line x1="481.76" y1="243.4" x2="481.76" y2="459" stroke="#efefef" stroke-width="0.7" stroke-dasharray="2 1.3"/>
<line x1="409.3" y1="400.73" x2="677.4" y2="400.73" stroke="#efefef" stroke-width="0.7" stroke-dasharray="2 1.3"/>
<line x1="496.25" y1="243.4" x2="496.25" y2="459" stroke="#efefef" stroke-width="0.7" stroke-dasharray="2 1.3"/>
<line x1="409.3" y1="389.08" x2="677.4" y2="389.08" stroke="#efefef" stroke-width="0.7" stroke-dasharray="2 1.3"/>
<line x1="510.74" y1="243.4" x2="510.74" y2="459" stroke="#efefef" stroke-width="0.7" stroke-dasharray="2 1.3"/>
<line x1="409.3" y1="377.42" x2="677.4" y2="377.42" stroke="#efefef" stroke-width="0.7" stroke-dasharray="2 1.3"/>
<line x1="525.24" y1="243.4" x2="525.24" y2="459" stroke="#efefef" stroke-width="0.7" stroke-dasharray="2 1.3"/>
<line x1="409.3" y1="365.77" x2="677.4" y2="365.77" stroke="#efefef" stroke-width="0.7" stroke-dasharray="2 1.3"/>
<line x1="539.73" y1="243.4" x2="539.73" y2="459" stroke="#efefef" stroke-width="0.7" stroke-dasharray="2 1.3"/>
<line x1="409.3" y1="354.11" x2="677.4" y2="354.11" stroke="#efefef" stroke-width="0.7" stroke-dasharray="2 1.3"/>
<line x1="554.22" y1="243.4" x2="554.22" y2="459" stroke="#efefef" stroke-width="0.7" stroke-dasharray="2 1.3"/>
<line x1="409.3" y1="342.46" x2="677.4" y2="342.46" stroke="#efefef" stroke-width="0.7" stroke-dasharray="2 1.3"/>
<line x1="568.71" y1="243.4" x2="568.71" y2="459" stroke="#efefef" stroke-width="0.7" stroke-dasharray="2 1.3"/>
<line x1="409.3" y1="330.81" x2="677.4" y2="330.81" stroke="#efefef" stroke-width="0.7" stroke-dasharray="2 1.3"/>
<line x1="583.2" y1="243.4" x2="583.2" y2="459" stroke="#efefef" stroke-width="0.7" stroke-dasharray="2 1.3"/>
<line x1="409.3" y1="319.15" x2="677.4" y2="319.15" stroke="#efefef" stroke-width="0.7" stroke-dasharray="2 1.3"/>
<line x1="597.69" y1="243.4" x2="597.69" y2="459" stroke="#efefef" stroke-width="0.7" stroke-dasharray="2 1.3"/>
<line x1="409.3" y1="307.5" x2="677.4" y2="307.5" stroke="#efefef" stroke-width="0.7" stroke-dasharray="2 1.3"/>
<line x1="612.19" y1="243.4" x2="612.19" y2="459" stroke="#efefef" stroke-width="0.7" stroke-dasharray="2 1.3"/>
<line x1="409.3" y1="295.84" x2="677.4" y2="295.84" stroke="#efefef" stroke-width="0.7" stroke-dasharray="2 1.3"/>
<line x1="626.68" y1="243.4" x2="626.68" y2="459" stroke="#efefef" stroke-width="0.7" stroke-dasharray="2 1.3"/>
<line x1="409.3" y1="284.19" x2="677.4" y2="284.19" stroke="#efefef" stroke-width="0.7" stroke-dasharray="2 1.3"/>
<line x1="641.17" y1="243.4" x2="641.17" y2="459" stroke="#efefef" stroke-width="0.7" stroke-dasharray="2 1.3"/>
<line x1="409.3" y1="272.54" x2="677.4" y2="272.54" stroke="#efefef" stroke-width="0.7" stroke-dasharray="2 1.3"/>
<line x1="655.66" y1="243.4" x2="655.66" y2="459" stroke="#efefef" stroke-width="0.7" stroke-dasharray="2 1.3"/>
<line x1="409.3" y1="260.88" x2="677.4" y2="260.88" stroke="#efefef" stroke-width="0.7" stroke-dasharray="2 1.3"/>
<line x1="670.15" y1="243.4" x2="670.15" y2="459" stroke="#efefef" stroke-width="0.7" stroke-dasharray="2 1.3"/>
<line x1="409.3" y1="249.23" x2="677.4" y2="249.23" stroke="#efefef" stroke-width="0.7" stroke-dasharray="2 1.3"/>
<rect x="409.3" y="243.4" width="268.1" height="215.6" fill="none" stroke="#2a2a2a" stroke-width="1"/>
<line x1="409.3" y1="459" x2="409.3" y2="455" stroke="#2a2a2a" stroke-width="0.9"/>
<line x1="409.3" y1="459" x2="413.3" y2="459" stroke="#2a2a2a" stroke-width="0.9"/>
<text transform="translate(406.63,470.81) scale(1.0343,1)" font-size="8.873" fill="#2a2a2a" stroke="#2a2a2a" stroke-width="0.22">0</text>
<text transform="translate(399.83,461.91) scale(0.9756,1)" font-size="9.014" fill="#2a2a2a" stroke="#2a2a2a" stroke-width="0.22">0</text>
<line x1="423.79" y1="459" x2="423.79" y2="456.6" stroke="#2a2a2a" stroke-width="0.9"/>
<line x1="409.3" y1="447.35" x2="411.7" y2="447.35" stroke="#2a2a2a" stroke-width="0.9"/>
<line x1="438.28" y1="459" x2="438.28" y2="455" stroke="#2a2a2a" stroke-width="0.9"/>
<line x1="409.3" y1="435.69" x2="413.3" y2="435.69" stroke="#2a2a2a" stroke-width="0.9"/>
<text transform="translate(430.47,470.81) scale(1.0343,1)" font-size="8.873" fill="#2a2a2a" stroke="#2a2a2a" stroke-width="0.22">200</text>
<text transform="translate(390.07,438.6) scale(0.9756,1)" font-size="9.014" fill="#2a2a2a" stroke="#2a2a2a" stroke-width="0.22">200</text>
<line x1="452.78" y1="459" x2="452.78" y2="456.6" stroke="#2a2a2a" stroke-width="0.9"/>
<line x1="409.3" y1="424.04" x2="411.7" y2="424.04" stroke="#2a2a2a" stroke-width="0.9"/>
<line x1="467.27" y1="459" x2="467.27" y2="455" stroke="#2a2a2a" stroke-width="0.9"/>
<line x1="409.3" y1="412.38" x2="413.3" y2="412.38" stroke="#2a2a2a" stroke-width="0.9"/>
<text transform="translate(459.6,470.81) scale(1.0343,1)" font-size="8.873" fill="#2a2a2a" stroke="#2a2a2a" stroke-width="0.22">400</text>
<text transform="translate(390.07,415.29) scale(0.9756,1)" font-size="9.014" fill="#2a2a2a" stroke="#2a2a2a" stroke-width="0.22">400</text>
<line x1="481.76" y1="459" x2="481.76" y2="456.6" stroke="#2a2a2a" stroke-width="0.9"/>
<line x1="409.3" y1="400.73" x2="411.7" y2="400.73" stroke="#2a2a2a" stroke-width="0.9"/>
<line x1="496.25" y1="459" x2="496.25" y2="455" stroke="#2a2a2a" stroke-width="0.9"/>
<line x1="409.3" y1="389.08" x2="413.3" y2="389.08" stroke="#2a2a2a" stroke-width="0.9"/>
<text transform="translate(488.44,470.81) scale(1.0343,1)" font-size="8.873" fill="#2a2a2a" stroke="#2a2a2a" stroke-width="0.22">600</text>
<text transform="translate(390.07,391.99) scale(0.9756,1)" font-size="9.014" fill="#2a2a2a" stroke="#2a2a2a" stroke-width="0.22">600</text>
<line x1="510.74" y1="459" x2="510.74" y2="456.6" stroke="#2a2a2a" stroke-width="0.9"/>
<line x1="409.3" y1="377.42" x2="411.7" y2="377.42" stroke="#2a2a2a" stroke-width="0.9"/>
<line x1="525.24" y1="459" x2="525.24" y2="455" stroke="#2a2a2a" stroke-width="0.9"/>
<line x1="409.3" y1="365.77" x2="413.3" y2="365.77" stroke="#2a2a2a" stroke-width="0.9"/>
<text transform="translate(517.45,470.81) scale(1.0343,1)" font-size="8.873" fill="#2a2a2a" stroke="#2a2a2a" stroke-width="0.22">800</text>
<text transform="translate(390.07,368.68) scale(0.9756,1)" font-size="9.014" fill="#2a2a2a" stroke="#2a2a2a" stroke-width="0.22">800</text>
<line x1="539.73" y1="459" x2="539.73" y2="456.6" stroke="#2a2a2a" stroke-width="0.9"/>
<line x1="409.3" y1="354.11" x2="411.7" y2="354.11" stroke="#2a2a2a" stroke-width="0.9"/>
<line x1="554.22" y1="459" x2="554.22" y2="455" stroke="#2a2a2a" stroke-width="0.9"/>
<line x1="409.3" y1="342.46" x2="413.3" y2="342.46" stroke="#2a2a2a" stroke-width="0.9"/>
<text transform="translate(543.73,470.81) scale(1.0343,1)" font-size="8.873" fill="#2a2a2a" stroke="#2a2a2a" stroke-width="0.22">1000</text>
<text transform="translate(385.14,345.37) scale(0.9756,1)" font-size="9.014" fill="#2a2a2a" stroke="#2a2a2a" stroke-width="0.22">1000</text>
<line x1="568.71" y1="459" x2="568.71" y2="456.6" stroke="#2a2a2a" stroke-width="0.9"/>
<line x1="409.3" y1="330.81" x2="411.7" y2="330.81" stroke="#2a2a2a" stroke-width="0.9"/>
<line x1="583.2" y1="459" x2="583.2" y2="455" stroke="#2a2a2a" stroke-width="0.9"/>
<line x1="409.3" y1="319.15" x2="413.3" y2="319.15" stroke="#2a2a2a" stroke-width="0.9"/>
<text transform="translate(572.71,470.81) scale(1.0343,1)" font-size="8.873" fill="#2a2a2a" stroke="#2a2a2a" stroke-width="0.22">1200</text>
<text transform="translate(385.14,322.06) scale(0.9756,1)" font-size="9.014" fill="#2a2a2a" stroke="#2a2a2a" stroke-width="0.22">1200</text>
<line x1="597.69" y1="459" x2="597.69" y2="456.6" stroke="#2a2a2a" stroke-width="0.9"/>
<line x1="409.3" y1="307.5" x2="411.7" y2="307.5" stroke="#2a2a2a" stroke-width="0.9"/>
<line x1="612.19" y1="459" x2="612.19" y2="455" stroke="#2a2a2a" stroke-width="0.9"/>
<line x1="409.3" y1="295.84" x2="413.3" y2="295.84" stroke="#2a2a2a" stroke-width="0.9"/>
<text transform="translate(601.69,470.81) scale(1.0343,1)" font-size="8.873" fill="#2a2a2a" stroke="#2a2a2a" stroke-width="0.22">1400</text>
<text transform="translate(385.14,298.75) scale(0.9756,1)" font-size="9.014" fill="#2a2a2a" stroke="#2a2a2a" stroke-width="0.22">1400</text>
<line x1="626.68" y1="459" x2="626.68" y2="456.6" stroke="#2a2a2a" stroke-width="0.9"/>
<line x1="409.3" y1="284.19" x2="411.7" y2="284.19" stroke="#2a2a2a" stroke-width="0.9"/>
<line x1="641.17" y1="459" x2="641.17" y2="455" stroke="#2a2a2a" stroke-width="0.9"/>
<line x1="409.3" y1="272.54" x2="413.3" y2="272.54" stroke="#2a2a2a" stroke-width="0.9"/>
<text transform="translate(630.68,470.81) scale(1.0343,1)" font-size="8.873" fill="#2a2a2a" stroke="#2a2a2a" stroke-width="0.22">1600</text>
<text transform="translate(385.14,275.44) scale(0.9756,1)" font-size="9.014" fill="#2a2a2a" stroke="#2a2a2a" stroke-width="0.22">1600</text>
<line x1="655.66" y1="459" x2="655.66" y2="456.6" stroke="#2a2a2a" stroke-width="0.9"/>
<line x1="409.3" y1="260.88" x2="411.7" y2="260.88" stroke="#2a2a2a" stroke-width="0.9"/>
<line x1="670.15" y1="459" x2="670.15" y2="455" stroke="#2a2a2a" stroke-width="0.9"/>
<line x1="409.3" y1="249.23" x2="413.3" y2="249.23" stroke="#2a2a2a" stroke-width="0.9"/>
<text transform="translate(659.66,470.81) scale(1.0343,1)" font-size="8.873" fill="#2a2a2a" stroke="#2a2a2a" stroke-width="0.22">1800</text>
<text transform="translate(385.14,252.14) scale(0.9756,1)" font-size="9.014" fill="#2a2a2a" stroke="#2a2a2a" stroke-width="0.22">1800</text>
<line x1="409.3" y1="459" x2="677.4" y2="243.4" stroke="#f06ab8" stroke-width="1.2" stroke-dasharray="2.6 1.8"/>
<circle cx="491.61" cy="248.88" r="3.6" fill="#2c55b2"/>
<circle cx="523.79" cy="308.2" r="3.6" fill="#2c55b2"/>
<circle cx="503.35" cy="347.35" r="3.6" fill="#2c55b2"/>
<circle cx="438.43" cy="360.17" r="3.6" fill="#2c55b2"/>
<circle cx="463.64" cy="376.37" r="3.6" fill="#2c55b2"/>
<circle cx="437.7" cy="398.28" r="3.6" fill="#2c55b2"/>
<circle cx="451.33" cy="398.98" r="3.6" fill="#2c55b2"/>
<circle cx="455.67" cy="402.36" r="3.6" fill="#2c55b2"/>
<circle cx="453.07" cy="414.71" r="3.6" fill="#2c55b2"/>
<circle cx="455.96" cy="416.58" r="3.6" fill="#2c55b2"/>
<circle cx="427.56" cy="416.58" r="3.6" fill="#2c55b2"/>
<circle cx="471.33" cy="422.99" r="3.6" fill="#2c55b2"/>
<circle cx="422.2" cy="427.88" r="3.6" fill="#2c55b2"/>
<circle cx="447.12" cy="431.26" r="3.6" fill="#2c55b2"/>
<circle cx="434.23" cy="439.3" r="3.6" fill="#2c55b2"/>
<circle cx="426.55" cy="441.05" r="3.6" fill="#2c55b2"/>
<circle cx="418.57" cy="442.92" r="3.6" fill="#2c55b2"/>
<circle cx="419.3" cy="445.83" r="3.6" fill="#2c55b2"/>
<circle cx="428.43" cy="447" r="3.6" fill="#2c55b2"/>
<circle cx="417.71" cy="453.64" r="3.6" fill="#2c55b2"/>
<text transform="translate(462.54,488.33) scale(0.9498,1)" font-size="11.765" fill="#2a2a2a" stroke="#2a2a2a" stroke-width="0.2">GS splitting of initial state (GHz)</text>
<text transform="translate(366.82,390.36) rotate(-90) scale(0.9927,1)" font-size="11.337" fill="#2a2a2a" stroke="#2a2a2a" stroke-width="0.2">GS splitting of state</text>
<text transform="translate(381.35,436.85) rotate(-90) scale(0.9561,1)" font-size="11.658" fill="#2a2a2a" stroke="#2a2a2a" stroke-width="0.2">after pulsed laser irradiation (GHz)</text>
<text transform="translate(351.26,253.82) scale(1.0389,1)" font-size="17.818" fill="#111">e</text>
</svg></body></html>
